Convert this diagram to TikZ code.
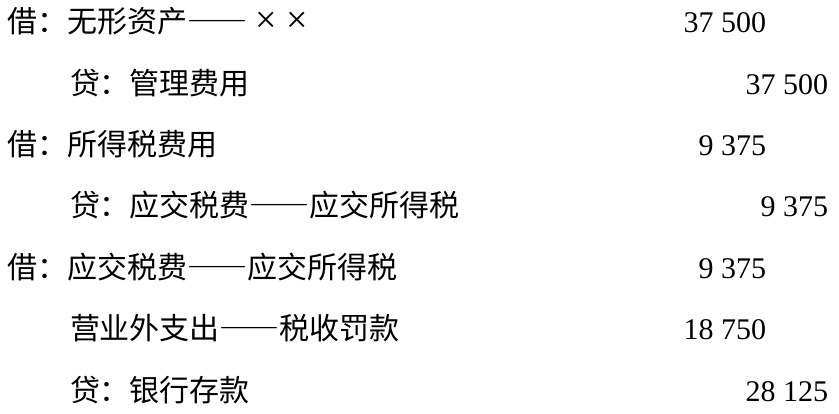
\documentclass[tikz,border=0pt]{standalone}
\usepackage{fontspec}
\setmainfont{Liberation Serif}
\newfontfamily\cjk{Noto Sans CJK SC}
\newfontfamily\cjkdash[RawFeature=+fwid]{Noto Sans CJK SC}
\newcommand{\sub}{{\cjkdash ——}}
\begin{document}
\begin{tikzpicture}[x=1pt, y=-1pt, inner sep=0pt, outer sep=0pt,
  acct/.style={anchor=base west, font=\fontsize{30}{36}\selectfont\cjk},
  amt/.style={anchor=base east, font=\fontsize{30}{36}\selectfont}]
\useasboundingbox (0,0) rectangle (839,414);
% first entry
\node(D1) [acct] at (8,33) {借：无形资产\sub\hspace{8pt}{\rmfamily\fontsize{38}{38}\selectfont× ×}};
\node(C1) [acct] at (70,95) {贷：管理费用};
\node(D1v) [amt] at (766,33) {37 500};
\node(C1v) [amt] at (828,95) {37 500};
% second entry
\node(D2) [acct] at (8,156) {借：所得税费用};
\node(C2) [acct] at (70,217) {贷：应交税费\sub 应交所得税};
\node(D2v) [amt] at (766,156) {9 375};
\node(C2v) [amt] at (828,217) {9 375};
% third entry
\node(D3) [acct] at (8,279) {借：应交税费\sub 应交所得税};
\node(D4) [acct] at (70,340) {营业外支出\sub 税收罚款};
\node(C3) [acct] at (70,402) {贷：银行存款};
\node(D3v) [amt] at (766,279) {9 375};
\node(D4v) [amt] at (766,340) {18 750};
\node(C3v) [amt] at (828,402) {28 125};
\end{tikzpicture}
\end{document}
